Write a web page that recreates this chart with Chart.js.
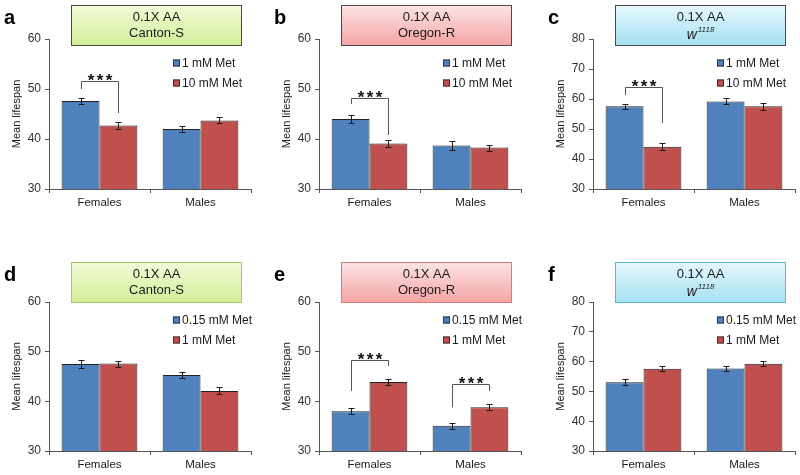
<!DOCTYPE html>
<html>
<head>
<meta charset="utf-8">
<script src="https://cdn.jsdelivr.net/npm/chart.js"></script>
<style>
  body { margin: 0; background: #fff; }
  #fig { position: relative; width: 800px; height: 475px; }
  .panel { position: absolute; width: 256px; }
</style>
</head>
<body>
<div id="fig">
  <div class="panel" style="left:0;top:0;height:237px"><canvas id="pa"></canvas></div>
  <div class="panel" style="left:270px;top:0;height:237px"><canvas id="pb"></canvas></div>
  <div class="panel" style="left:544px;top:0;height:237px"><canvas id="pc"></canvas></div>
  <div class="panel" style="left:0;top:240px;height:235px"><canvas id="pd"></canvas></div>
  <div class="panel" style="left:270px;top:240px;height:235px"><canvas id="pe"></canvas></div>
  <div class="panel" style="left:544px;top:240px;height:235px"><canvas id="pf"></canvas></div>
</div>

<script>
// categories and series names
const sexes = ['Females', 'Males'];
const dosesTop = ['1 mM Met', '10 mM Met'];
const dosesBottom = ['0.15 mM Met', '1 mM Met'];

// mean lifespan (days) and SEM
// a: Canton-S, 1 vs 10 mM
const aLow = [47.6, 42.0];
const aLowErr = [0.6, 0.6];
const aHigh = [42.7, 43.7];
const aHighErr = [0.6, 0.6];
// b: Oregon-R, 1 vs 10 mM
const bLow = [44.0, 38.7];
const bLowErr = [0.9, 1.0];
const bHigh = [39.1, 38.3];
const bHighErr = [0.7, 0.6];
// c: w1118, 1 vs 10 mM
const cLow = [57.6, 59.2];
const cLowErr = [0.9, 1.0];
const cHigh = [44.1, 57.6];
const cHighErr = [1.1, 1.2];
// d: Canton-S, 0.15 vs 1 mM
const dLow = [47.5, 45.3];
const dLowErr = [0.8, 0.7];
const dHigh = [47.6, 42.1];
const dHighErr = [0.6, 0.7];
// e: Oregon-R, 0.15 vs 1 mM
const eLow = [38.0, 35.1];
const eLowErr = [0.6, 0.6];
const eHigh = [43.9, 38.8];
const eHighErr = [0.6, 0.6];
// f: w1118, 0.15 vs 1 mM
const fLow = [53.1, 57.7];
const fLowErr = [0.9, 0.8];
const fHigh = [57.6, 59.3];
const fHighErr = [0.9, 0.9];

// significance brackets: [category, top, left leg end, right leg end] in lifespan units
const aSig = [[0, 51.6, 50.0, 45.2]];
const bSig = [[0, 48.3, 47.0, 40.8]];
const cSig = [[0, 64.0, 61.3, 52.0]];
const eSig = [[0, 48.4, 42.1, 47.1], [1, 43.5, 38.8, 42.1]];

const yTicks60 = [30, 40, 50, 60];
const yTicks80 = [30, 40, 50, 60, 70, 80];

const FONT = "'Liberation Sans', Arial, sans-serif";
const BLUE = '#4f81bd';
const RED = '#c0504d';

const boxStyles = {
  green: { top: '#f2fbd8', bottom: '#d3ee98' },
  red:   { top: '#fde4e4', bottom: '#f4a4a4' },
  blue:  { top: '#e6f8fd', bottom: '#a4e0f2' }
};

const decor = {
  id: 'decor',
  afterDatasetsDraw(chart) {
    const ctx = chart.ctx;
    const y = chart.scales.y;
    ctx.save();
    ctx.strokeStyle = '#1a1a1a';
    ctx.lineWidth = 1;
    chart.data.datasets.forEach((ds, i) => {
      chart.getDatasetMeta(i).data.forEach((bar, j) => {
        const hi = Math.round(y.getPixelForValue(ds.data[j] + ds.errors[j])) + 0.5;
        const lo = Math.round(y.getPixelForValue(ds.data[j] - ds.errors[j])) + 0.5;
        const x = Math.round(bar.x) + 0.5;
        ctx.beginPath();
        ctx.moveTo(x, hi); ctx.lineTo(x, lo);
        ctx.moveTo(x - 3, hi); ctx.lineTo(x + 3, hi);
        ctx.moveTo(x - 3, lo); ctx.lineTo(x + 3, lo);
        ctx.stroke();
      });
    });
    ctx.restore();
  },
  afterDraw(chart, args, opts) {
    const ctx = chart.ctx;
    const area = chart.chartArea;
    const y = chart.scales.y;
    ctx.save();

    // strain box
    const bx = area.left + 22, bw = 171, by = opts.boxTop, bh = 41;
    const g = ctx.createLinearGradient(0, by, 0, by + bh);
    g.addColorStop(0, boxStyles[opts.box].top);
    g.addColorStop(1, boxStyles[opts.box].bottom);
    ctx.fillStyle = g;
    ctx.fillRect(bx, by, bw, bh);
    ctx.strokeStyle = opts.boxBorder;
    ctx.lineWidth = 1;
    ctx.strokeRect(bx + 0.5, by + 0.5, bw - 1, bh - 1);

    const cx = bx + bw / 2;
    ctx.fillStyle = '#1a1a1a';
    ctx.textAlign = 'center';
    ctx.textBaseline = 'middle';
    ctx.font = '13px ' + FONT;
    ctx.fillText('0.1X AA', cx, by + 12);
    if (opts.italicStrain) {
      ctx.font = 'italic 14px ' + FONT;
      const w1 = ctx.measureText('w').width;
      ctx.font = 'italic 8px ' + FONT;
      const w2 = ctx.measureText('1118').width;
      const sx = cx - (w1 + w2 + 1) / 2;
      ctx.textAlign = 'left';
      ctx.font = 'italic 14px ' + FONT;
      ctx.fillText('w', sx, by + 30);
      ctx.font = 'italic 8px ' + FONT;
      ctx.fillText('1118', sx + w1 + 1, by + 25);
    } else {
      ctx.fillText(opts.strain, cx, by + 28);
    }

    // panel letter
    ctx.textAlign = 'left';
    ctx.font = 'bold 20px ' + FONT;
    ctx.fillStyle = '#000';
    ctx.fillText(opts.letter, 4, by + 13);

    // legend
    const lx = area.left + 124;
    chart.data.datasets.forEach((ds, i) => {
      const ly = by + bh + 17 + i * 20;
      ctx.fillStyle = ds.backgroundColor;
      ctx.fillRect(lx, ly - 3.5, 7, 7);
      ctx.strokeStyle = '#333';
      ctx.strokeRect(lx + 0.5, ly - 3, 6, 6);
      ctx.fillStyle = '#1a1a1a';
      ctx.font = '12px ' + FONT;
      ctx.textBaseline = 'middle';
      ctx.fillText(ds.label, lx + 9, ly + 1);
    });

    // significance brackets
    (opts.sig || []).forEach(s => {
      const xl = Math.round(chart.getDatasetMeta(0).data[s[0]].x) + 0.5;
      const xr = Math.round(chart.getDatasetMeta(1).data[s[0]].x) + 0.5;
      const yt = Math.round(y.getPixelForValue(s[1])) + 0.5;
      const yl = y.getPixelForValue(s[2]);
      const yr = y.getPixelForValue(s[3]);
      ctx.strokeStyle = '#555';
      ctx.lineWidth = 1;
      ctx.beginPath();
      ctx.moveTo(xl, yl); ctx.lineTo(xl, yt); ctx.lineTo(xr, yt); ctx.lineTo(xr, yr);
      ctx.stroke();
      ctx.fillStyle = '#111';
      ctx.font = 'bold 17px ' + FONT;
      ctx.textAlign = 'center';
      ctx.textBaseline = 'alphabetic';
      const mid = (xl + xr) / 2;
      [-9, 0, 9].forEach(d => ctx.fillText('*', mid + d, yt + 4));
    });
    ctx.restore();
  }
};

function makePanel(id, low, lowErr, high, highErr, doses, yMax, ticks, deco, topRow) {
  new Chart(document.getElementById(id), {
    type: 'bar',
    data: {
      labels: sexes,
      datasets: [
        { label: doses[0], data: low, errors: lowErr, backgroundColor: BLUE },
        { label: doses[1], data: high, errors: highErr, backgroundColor: RED }
      ]
    },
    options: {
      responsive: true,
      maintainAspectRatio: false,
      animation: false,
      layout: { padding: { top: topRow ? 39 : 62, right: 5, bottom: topRow ? 24 : 0, left: 0 } },
      datasets: {
        bar: { categoryPercentage: 0.75, barPercentage: 1.0, borderColor: '#222', borderWidth: 1, borderSkipped: false }
      },
      scales: {
        x: {
          offset: true,
          afterFit: s => { s.height = 24; },
          border: { display: true, color: '#555' },
          grid: { display: true, drawOnChartArea: false, offset: true, tickLength: 4, color: '#555' },
          ticks: { color: '#1a1a1a', padding: 3, font: { family: FONT, size: 11.5 } }
        },
        y: {
          min: 30,
          max: yMax,
          afterFit: s => { s.width = 49; },
          afterBuildTicks: s => { s.ticks = ticks.map(v => ({ value: v })); },
          border: { display: true, color: '#555' },
          grid: { display: true, drawOnChartArea: false, tickLength: 4, color: '#555' },
          ticks: { color: '#333', padding: 4, font: { family: FONT, size: 12 } },
          title: { display: true, text: 'Mean lifespan', color: '#1a1a1a', padding: { top: 10, bottom: 0 }, font: { family: FONT, size: 11 } }
        }
      },
      plugins: {
        legend: { display: false },
        tooltip: { enabled: false },
        decor: deco
      }
    },
    plugins: [decor]
  });
}

makePanel('pa', aLow, aLowErr, aHigh, aHighErr, dosesTop, 60, yTicks60,
  { letter: 'a', strain: 'Canton-S', box: 'green', boxBorder: '#4a4a4a', boxTop: 5, sig: aSig }, true);
makePanel('pb', bLow, bLowErr, bHigh, bHighErr, dosesTop, 60, yTicks60,
  { letter: 'b', strain: 'Oregon-R', box: 'red', boxBorder: '#4a4a4a', boxTop: 5, sig: bSig }, true);
makePanel('pc', cLow, cLowErr, cHigh, cHighErr, dosesTop, 80, yTicks80,
  { letter: 'c', italicStrain: true, box: 'blue', boxBorder: '#4a4a4a', boxTop: 5, sig: cSig }, true);
makePanel('pd', dLow, dLowErr, dHigh, dHighErr, dosesBottom, 60, yTicks60,
  { letter: 'd', strain: 'Canton-S', box: 'green', boxBorder: '#a8c866', boxTop: 22 }, false);
makePanel('pe', eLow, eLowErr, eHigh, eHighErr, dosesBottom, 60, yTicks60,
  { letter: 'e', strain: 'Oregon-R', box: 'red', boxBorder: '#d47a7a', boxTop: 22, sig: eSig }, false);
makePanel('pf', fLow, fLowErr, fHigh, fHighErr, dosesBottom, 80, yTicks80,
  { letter: 'f', italicStrain: true, box: 'blue', boxBorder: '#5ab8d2', boxTop: 22 }, false);
</script>
</body>
</html>
